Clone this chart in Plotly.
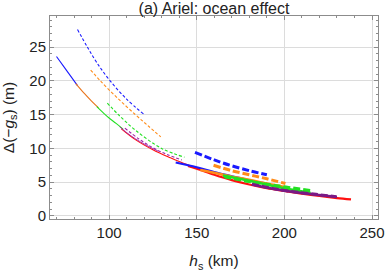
import plotly.graph_objects as go

# ---- data ----
# thin solid curves (low h_s range)
thin_solid_blue_h = [70, 75, 82]
thin_solid_blue_y = [23.6, 21.8, 19.3]
thin_solid_orange_h = [81, 86, 90, 94]
thin_solid_orange_y = [19.6, 18.1, 17.0, 16.0]
thin_solid_green_h = [93, 97, 100, 104, 108]
thin_solid_green_y = [16.2, 15.2, 14.5, 13.7, 12.85]
thin_solid_purple_h = [106, 112, 118, 124, 128]
thin_solid_purple_y = [13.2, 11.95, 10.95, 10.1, 9.6]
thin_solid_red_h = [107, 115, 125, 135, 140, 146]
thin_solid_red_y = [12.9, 11.3, 9.8, 8.6, 8.05, 7.45]

# thin dashed curves
thin_dash_blue_h = [82, 87.6, 93, 100.6, 110, 119.6]
thin_dash_blue_y = [27.6, 25.0, 22.7, 20.0, 17.3, 15.1]
thin_dash_orange_h = [89.5, 95, 105, 115, 122, 129.5]
thin_dash_orange_y = [21.6, 20.0, 17.4, 15.0, 13.4, 11.7]
thin_dash_green_h = [99, 105.3, 115, 130, 143]
thin_dash_green_y = [16.7, 15.0, 12.7, 10.0, 8.7]
thin_dash_purple_h = [109, 117, 125, 133, 141.5]
thin_dash_purple_y = [13.0, 11.4, 10.1, 9.1, 8.3]

# thick solid curves (high h_s range)
thick_solid_red_h = [145, 150, 160, 170, 180, 190, 200, 210, 220, 230, 238]
thick_solid_red_y = [7.4, 7.0, 6.1, 5.3, 4.65, 4.1, 3.7, 3.3, 2.95, 2.65, 2.45]
thick_solid_blue_h = [138, 150, 160, 170, 180, 190]
thick_solid_blue_y = [7.9, 7.2, 6.5, 5.9, 5.3, 4.8]
thick_solid_orange_h = [152, 160, 170, 177, 190, 200]
thick_solid_orange_y = [6.8, 6.4, 5.8, 5.5, 4.8, 4.3]
thick_solid_green_h = [165, 180, 200, 215]
thick_solid_green_y = [6.0, 5.2, 4.1, 3.4]
thick_solid_purple_h = [181.5, 192, 210, 230]
thick_solid_purple_y = [4.7, 4.1, 3.4, 2.8]

# thick dashed curves
thick_dash_blue_h = [149, 160, 169, 180, 190]
thick_dash_blue_y = [9.4, 8.3, 7.5, 6.7, 6.1]
thick_dash_orange_h = [159.6, 170, 180, 190, 200.6]
thick_dash_orange_y = [7.5, 6.7, 6.1, 5.5, 4.8]
thick_dash_green_h = [165.7, 180, 190, 200, 214.9]
thick_dash_green_y = [5.8, 5.1, 4.7, 4.3, 3.75]
thick_dash_purple_h = [181.5, 195, 205, 218, 229.7]
thick_dash_purple_y = [4.7, 4.0, 3.6, 3.2, 2.85]

x_ticks = [100, 150, 200, 250]
y_ticks = [0, 5, 10, 15, 20, 25]

BLUE = "#1a1aff"
ORANGE = "#ff8c1a"
GREEN = "#22e022"
PURPLE = "#a020a8"
DPURPLE = "#7a1a86"
RED = "#ff1010"

fig = go.Figure()

def add(h, y, color, width, dash="solid"):
    fig.add_trace(go.Scatter(x=h, y=y, mode="lines", showlegend=False,
                             line=dict(color=color, width=width, dash=dash, shape="spline"),
                             hoverinfo="skip"))

# thin solid
add(thin_solid_blue_h, thin_solid_blue_y, BLUE, 1.1)
add(thin_solid_orange_h, thin_solid_orange_y, "#e8731a", 1.1)
add(thin_solid_green_h, thin_solid_green_y, GREEN, 1.1)
add(thin_solid_red_h, thin_solid_red_y, RED, 1.1)
add(thin_solid_purple_h, thin_solid_purple_y, PURPLE, 0.9)
# thin dashed
TD = "3px,2px"
add(thin_dash_blue_h, thin_dash_blue_y, BLUE, 1.1, TD)
add(thin_dash_orange_h, thin_dash_orange_y, ORANGE, 1.1, TD)
add(thin_dash_green_h, thin_dash_green_y, GREEN, 1.1, TD)
add(thin_dash_purple_h, thin_dash_purple_y, PURPLE, 1.1, TD)
# thick solid
add(thick_solid_red_h, thick_solid_red_y, RED, 2.2)
add(thick_solid_blue_h, thick_solid_blue_y, BLUE, 2.0)
add(thick_solid_orange_h, thick_solid_orange_y, ORANGE, 2.6)
add(thick_solid_green_h, thick_solid_green_y, GREEN, 2.6)
add(thick_solid_purple_h, thick_solid_purple_y, DPURPLE, 2.6)
# thick dashed
KD = "7px,3px"
add(thick_dash_blue_h, thick_dash_blue_y, BLUE, 3, KD)
add(thick_dash_orange_h, thick_dash_orange_y, ORANGE, 3, KD)
add(thick_dash_green_h, thick_dash_green_y, GREEN, 3.2, KD)
add(thick_dash_purple_h, thick_dash_purple_y, DPURPLE, 3, KD)

FONT = "Liberation Sans, Arial"
axis_common = dict(showline=True, linecolor="#8c8c8c", linewidth=1, mirror="allticks",
                   ticks="inside", ticklen=4, tickcolor="#8c8c8c", tickwidth=1,
                   showgrid=True, gridcolor="#dcdcdc", gridwidth=1, zeroline=False,
                   automargin=False,
                   tickfont=dict(family=FONT, size=15, color="#222"))

fig.update_layout(
    width=386, height=273,
    margin=dict(l=50, r=8, t=16, b=54, autoexpand=False),
    paper_bgcolor="white", plot_bgcolor="white",
    title=dict(text="(a) Ariel: ocean effect", x=214 / 386, xanchor="center",
               xref="container", yref="container",
               y=1 - 8 / 273, yanchor="middle",
               font=dict(family=FONT, size=16, color="#222")),
    xaxis=dict(range=[66.3, 253.4], tickvals=x_ticks,
               minor=dict(ticks="inside", ticklen=2, dtick=10, tick0=0, tickcolor="#8c8c8c", showgrid=False),
               title=dict(text="<i>h</i><sub>s</sub> (km)",
                          font=dict(family=FONT, size=15.5, color="#222")),
               **axis_common),
    yaxis=dict(range=[-0.45, 29.6], tickvals=y_ticks,
               minor=dict(ticks="inside", ticklen=2, dtick=1, tick0=0, tickcolor="#8c8c8c", showgrid=False),
               title=dict(text="Δ(−<i>g</i><sub>s</sub>) (m)",
                          font=dict(family=FONT, size=15.5, color="#222")),
               **axis_common),
)

fig.write_html("out.html", config={"displayModeBar": False, "staticPlot": True},
               post_script="document.body.style.margin='0';document.body.style.overflow='hidden';")
